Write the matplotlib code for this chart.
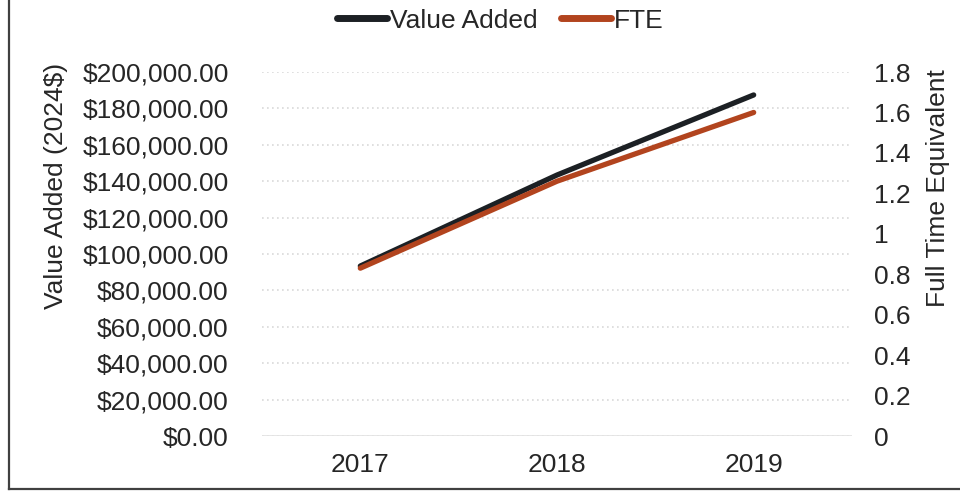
import matplotlib
matplotlib.use("Agg")
import matplotlib.pyplot as plt
from matplotlib.lines import Line2D
from matplotlib.ticker import FuncFormatter

plt.rcParams['font.family'] = ['Liberation Sans', 'DejaVu Sans']

years = ["2017", "2018", "2019"]
value_added = [93400, 143400, 187400]
fte = [0.83, 1.26, 1.60]

black = "#1c2024"
rust = "#b2441e"
tick_color = "#262626"
fs = 19

fig = plt.figure(figsize=(9.6, 4.93), dpi=100)
ax = fig.add_axes([0.2729, 0.1156, 0.6146, 0.7383])
ax2 = ax.twinx()

x = range(len(years))
ax.plot(x, value_added, color=black, lw=3.8, solid_capstyle="round", zorder=3)
ax2.plot(x, fte, color=rust, lw=3.8, solid_capstyle="round", zorder=3)

ax.set_xlim(-0.5, 2.5)
ax.set_ylim(0, 200000)
ax.set_yticks(range(0, 200001, 20000))
ax.yaxis.set_major_formatter(FuncFormatter(lambda v, p: f"${v:,.2f}"))
ax2.set_ylim(0, 1.8)
ax2.set_yticks([0, 0.2, 0.4, 0.6, 0.8, 1, 1.2, 1.4, 1.6, 1.8])
ax2.yaxis.set_major_formatter(FuncFormatter(lambda v, p: f"{v:g}"))

ax.set_xticks(list(x))
ax.set_xticklabels(years)

for a in (ax, ax2):
    for s in a.spines.values():
        s.set_visible(False)
    a.tick_params(length=0, labelsize=fs, colors=tick_color)
ax.tick_params(axis="y", pad=24)
ax.tick_params(axis="x", pad=12)
ax2.tick_params(axis="y", pad=16)

# dotted grid, solid baseline
ax.grid(axis="y", color="#d9d9d9", linestyle=(0, (1, 2)), lw=1.2)
ax.axhline(0, color="#e3e3e3", lw=2, zorder=1)
ax.set_axisbelow(True)

fig.text(0.058, 0.623, "Value Added (2024$)", rotation=90, ha="center",
         va="center", fontsize=fs, color=tick_color)
fig.text(0.977, 0.619, "Full Time Equivalent", rotation=90, ha="center",
         va="center", fontsize=fs, color=tick_color)

handles = [Line2D([], [], color=black, lw=5, solid_capstyle="round"),
           Line2D([], [], color=rust, lw=5, solid_capstyle="round")]
fig.legend(handles, ["Value Added", "FTE"], loc="center",
           bbox_to_anchor=(0.521, 0.958), ncol=2, frameon=False,
           fontsize=fs, handlelength=1.9, handletextpad=0.1,
           columnspacing=0.9, labelcolor=tick_color)

# outer frame (left and bottom edges)
fig.add_artist(Line2D([0.009, 0.009], [0.008, 1.0], color="#404040", lw=1.6,
                      transform=fig.transFigure))
fig.add_artist(Line2D([0.009, 1.0], [0.008, 0.008], color="#404040", lw=1.6,
                      transform=fig.transFigure))

fig.savefig("out.png", dpi=100)
